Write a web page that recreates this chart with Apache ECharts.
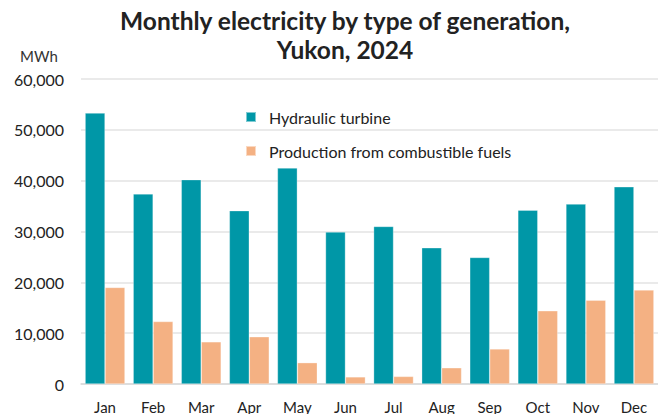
<!DOCTYPE html>
<html>
<head>
<meta charset="utf-8">
<script src="https://cdn.jsdelivr.net/npm/echarts@6/dist/echarts.min.js"></script>
<style>html,body{margin:0;padding:0;background:#fff}#c{width:658px;height:414px}</style>
</head>
<body>
<div id="c"></div>
<script>
const months = ['Jan','Feb','Mar','Apr','May','Jun','Jul','Aug','Sep','Oct','Nov','Dec'];
const hydraulic = [53300, 37400, 40200, 34100, 42500, 29900, 31000, 26800, 24900, 34200, 35400, 38800];
const combustible = [19000, 12300, 8300, 9300, 4200, 1400, 1500, 3200, 6900, 14400, 16500, 18500];
const seriesNames = ['Hydraulic turbine', 'Production from combustible fuels'];
const titleLines = ['Monthly electricity by type of generation,', 'Yukon, 2024'];
const unitLabel = 'MWh';

const chart = echarts.init(document.getElementById('c'), null, {renderer: 'svg'});
const font = 'Lato, "Noto Sans", sans-serif';
const titleStyle = {fontFamily: font, fontSize: 24.5, fontWeight: 'bold', color: '#222', lineHeight: 24};
chart.setOption({
  animation: false,
  textStyle: {fontFamily: font},
  title: [
    {text: titleLines[0], left: 345, textAlign: 'center', top: 8, padding: 0, textStyle: titleStyle},
    {text: titleLines[1], left: 345, textAlign: 'center', top: 37, padding: 0, textStyle: titleStyle}
  ],
  graphic: [{
    type: 'text', left: 20, top: 48,
    style: {text: unitLabel, font: '15px ' + font, fill: '#333'}
  }],
  legend: {
    orient: 'vertical', left: 240, top: 104,
    itemWidth: 10, itemHeight: 10, itemGap: 18,
    icon: 'rect',
    textStyle: {fontFamily: font, fontSize: 16, color: '#222', lineHeight: 16, padding: [0, 0, 0, 8]},
    data: seriesNames
  },
  grid: {left: 81, right: -4, top: 79, bottom: 29, containLabel: false},
  xAxis: {
    type: 'category', data: months,
    axisTick: {show: false},
    axisLine: {lineStyle: {color: '#d9d9d9', width: 1.5}},
    axisLabel: {fontFamily: font, fontSize: 15, color: '#222', margin: 15}
  },
  yAxis: {
    type: 'value', min: 0, max: 60000, interval: 10000,
    axisLabel: {fontFamily: font, fontSize: 16, color: '#222', margin: 17,
      formatter: v => v.toLocaleString('en-US')},
    splitLine: {lineStyle: {color: '#e3e3e3', width: 1.5}}
  },
  series: [
    {name: seriesNames[0], type: 'bar', data: hydraulic, barGap: '0%', barCategoryGap: '17%',
     itemStyle: {color: '#0097A7', borderColor: 'rgba(255,255,255,0.5)', borderWidth: 0.6}},
    {name: seriesNames[1], type: 'bar', data: combustible,
     itemStyle: {color: '#F4B183', borderColor: 'rgba(255,255,255,0.5)', borderWidth: 0.6}}
  ]
});
</script>
</body>
</html>
